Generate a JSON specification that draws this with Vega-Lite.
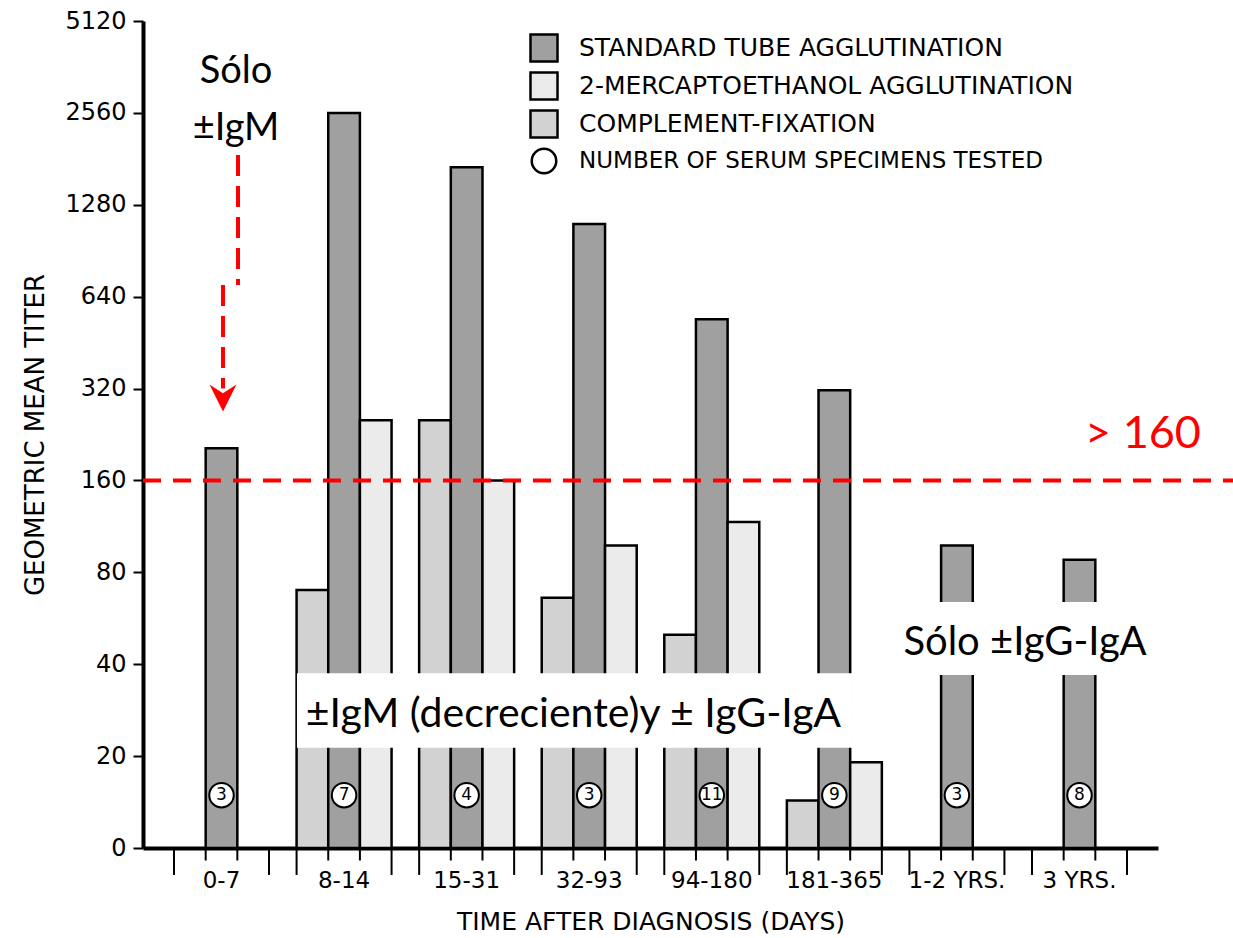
{
  "$schema": "https://vega.github.io/schema/vega-lite/v6.json",
  "width": 1015,
  "height": 827,
  "autosize": {"type": "none"},
  "padding": {"left": 143, "top": 21, "right": 75, "bottom": 90},
  "background": "white",
  "config": {"view": {"stroke": null}},
  "datasets": {
    "titers": [
      {"period": "0-7", "test": "STANDARD TUBE AGGLUTINATION", "titer": 204},
      {"period": "8-14", "test": "COMPLEMENT-FIXATION", "titer": 70},
      {"period": "8-14", "test": "STANDARD TUBE AGGLUTINATION", "titer": 2560},
      {"period": "8-14", "test": "2-MERCAPTOETHANOL AGGLUTINATION", "titer": 252},
      {"period": "15-31", "test": "COMPLEMENT-FIXATION", "titer": 252},
      {"period": "15-31", "test": "STANDARD TUBE AGGLUTINATION", "titer": 1700},
      {"period": "15-31", "test": "2-MERCAPTOETHANOL AGGLUTINATION", "titer": 160},
      {"period": "32-93", "test": "COMPLEMENT-FIXATION", "titer": 66},
      {"period": "32-93", "test": "STANDARD TUBE AGGLUTINATION", "titer": 1107},
      {"period": "32-93", "test": "2-MERCAPTOETHANOL AGGLUTINATION", "titer": 98},
      {"period": "94-180", "test": "COMPLEMENT-FIXATION", "titer": 50},
      {"period": "94-180", "test": "STANDARD TUBE AGGLUTINATION", "titer": 540},
      {"period": "94-180", "test": "2-MERCAPTOETHANOL AGGLUTINATION", "titer": 117},
      {"period": "181-365", "test": "COMPLEMENT-FIXATION", "titer": 14.3},
      {"period": "181-365", "test": "STANDARD TUBE AGGLUTINATION", "titer": 316},
      {"period": "181-365", "test": "2-MERCAPTOETHANOL AGGLUTINATION", "titer": 19.1},
      {"period": "1-2 YRS.", "test": "STANDARD TUBE AGGLUTINATION", "titer": 98},
      {"period": "3 YRS.", "test": "STANDARD TUBE AGGLUTINATION", "titer": 88}
    ],
    "specimens": [
      {"period": "0-7", "n": 3},
      {"period": "8-14", "n": 7},
      {"period": "15-31", "n": 4},
      {"period": "32-93", "n": 3},
      {"period": "94-180", "n": 11},
      {"period": "181-365", "n": 9},
      {"period": "1-2 YRS.", "n": 3},
      {"period": "3 YRS.", "n": 8}
    ],
    "periods": [
      {"period": "0-7", "edge": ["e0", "e1", "e2", "e3"]},
      {"period": "8-14", "edge": ["e0", "e1", "e2", "e3"]},
      {"period": "15-31", "edge": ["e0", "e1", "e2", "e3"]},
      {"period": "32-93", "edge": ["e0", "e1", "e2", "e3"]},
      {"period": "94-180", "edge": ["e0", "e1", "e2", "e3"]},
      {"period": "181-365", "edge": ["e0", "e1", "e2", "e3"]},
      {"period": "1-2 YRS.", "edge": ["e0", "e1", "e2", "e3"]},
      {"period": "3 YRS.", "edge": ["e0", "e1", "e2", "e3"]}
    ],
    "note": [{}]
  },
  "layer": [
    {
      "data": {"name": "titers"},
      "layer": [
        {
          "mark": {"type": "bar", "stroke": "black", "strokeWidth": 2.5},
          "encoding": {
            "x": {
              "field": "period", "type": "nominal", "sort": null,
              "scale": {"domain": ["0-7", "8-14", "15-31", "32-93", "94-180", "181-365", "1-2 YRS.", "3 YRS."], "paddingInner": 0.225, "paddingOuter": 0.253},
              "axis": {
                "title": "TIME AFTER DIAGNOSIS (DAYS)", "labelAngle": 0, "ticks": false, "tickSize": 0,
                "domainWidth": 4, "domainColor": "black",
                "labelFont": "DejaVu Sans", "labelFontSize": 23, "labelColor": "black", "labelPadding": 21, "labelBaseline": "top",
                "titleFont": "DejaVu Sans", "titleFontSize": 25, "titleFontWeight": "normal", "titleColor": "black", "titlePadding": 17
              }
            },
            "xOffset": {
              "field": "test", "type": "nominal",
              "scale": {"domain": ["COMPLEMENT-FIXATION", "STANDARD TUBE AGGLUTINATION", "2-MERCAPTOETHANOL AGGLUTINATION"], "paddingInner": 0, "paddingOuter": 0}
            },
            "y": {
              "field": "titer", "type": "quantitative",
              "scale": {"type": "log", "base": 2, "domain": [10, 5120], "nice": false},
              "axis": {
                "values": [10, 20, 40, 80, 160, 320, 640, 1280, 2560, 5120], "format": "d",
                "labelExpr": "datum.value == 10 ? '0' : datum.label",
                "grid": false, "domainWidth": 4, "domainColor": "black",
                "tickColor": "black", "tickWidth": 2, "tickSize": 10,
                "labelPadding": 7, "labelFont": "DejaVu Sans", "labelFontSize": 24, "labelColor": "black",
                "title": "GEOMETRIC MEAN TITER", "titleFont": "DejaVu Sans", "titleFontSize": 26, "titleFontWeight": "normal", "titleColor": "black", "titlePadding": 16
              }
            },
            "y2": {"datum": 10},
            "fill": {
              "field": "test", "type": "nominal",
              "scale": {
                "domain": ["STANDARD TUBE AGGLUTINATION", "2-MERCAPTOETHANOL AGGLUTINATION", "COMPLEMENT-FIXATION", "NUMBER OF SERUM SPECIMENS TESTED"],
                "range": ["#a0a0a0", "#ebebeb", "#d2d2d2", "#ffffff"]
              },
              "legend": {
                "orient": "none", "legendX": 386, "legendY": 12, "title": null, "padding": 0,
                "symbolType": "square", "symbolSize": 730, "symbolStrokeColor": "black", "symbolStrokeWidth": 2.5, "symbolOpacity": 1,
                "labelFont": "DejaVu Sans", "labelFontSize": 25, "labelColor": "black", "labelOffset": 20, "labelLimit": 700, "rowPadding": 0,
                "encode": {
                  "symbols": {"update": {
                    "shape": {"signal": "datum.value === 'NUMBER OF SERUM SPECIMENS TESTED' ? 'circle' : 'square'"},
                    "size": {"signal": "datum.value === 'NUMBER OF SERUM SPECIMENS TESTED' ? 600 : 730"}
                  }},
                  "labels": {"update": {
                    "fontSize": {"signal": "datum.value === 'NUMBER OF SERUM SPECIMENS TESTED' ? 23 : 25"}
                  }}
                }
              }
            }
          }
        },
        {
          "data": {"name": "specimens"},
          "mark": {"type": "point", "shape": "circle", "filled": true, "fill": "white", "stroke": "black", "strokeWidth": 2, "size": 600, "opacity": 1},
          "encoding": {
            "x": {"field": "period", "type": "nominal", "sort": null},
            "y": {"datum": 14.9}
          }
        },
        {
          "data": {"name": "specimens"},
          "mark": {"type": "text", "font": "DejaVu Sans", "fontSize": 17, "baseline": "middle", "align": "center", "fill": "black"},
          "encoding": {
            "x": {"field": "period", "type": "nominal", "sort": null},
            "y": {"datum": 14.9},
            "text": {"field": "n", "type": "nominal"}
          }
        }
      ]
    },
    {
      "data": {"name": "periods"},
      "transform": [{"flatten": ["edge"]}],
      "encoding": {
        "x": {
          "field": "period", "type": "nominal", "sort": null,
          "scale": {"domain": ["0-7", "8-14", "15-31", "32-93", "94-180", "181-365", "1-2 YRS.", "3 YRS."], "paddingInner": 0.225, "paddingOuter": 0.253},
          "axis": null
        },
        "xOffset": {"field": "edge", "type": "nominal", "scale": {"type": "point", "domain": ["e0", "e1", "e2", "e3"], "padding": 0}}
      },
      "layer": [
        {
          "transform": [{"filter": "datum.edge == 'e0' || datum.edge == 'e3'"}],
          "mark": {"type": "rule", "stroke": "black", "strokeWidth": 2},
          "encoding": {"y": {"datum": 10}, "y2": {"datum": 8.16}}
        },
        {
          "transform": [{"filter": "datum.edge == 'e1' || datum.edge == 'e2'"}],
          "mark": {"type": "rule", "stroke": "black", "strokeWidth": 2},
          "encoding": {"y": {"datum": 10}, "y2": {"datum": 9.1}}
        }
      ]
    },
    {
      "data": {"name": "note"},
      "layer": [
        {
          "mark": {"type": "rect", "fill": "white"},
          "encoding": {
            "x": {"datum": 0.1517, "type": "quantitative", "scale": {"domain": [0, 1], "nice": false, "zero": false}, "axis": null},
            "x2": {"datum": 0.6985},
            "y": {"datum": 21.3},
            "y2": {"datum": 37.4}
          }
        },
        {
          "mark": {"type": "rect", "fill": "white"},
          "encoding": {
            "x": {"datum": 0.7458, "type": "quantitative"},
            "x2": {"datum": 0.9941},
            "y": {"datum": 36.9},
            "y2": {"datum": 63.9}
          }
        },
        {
          "mark": {"type": "rule", "stroke": "#ff0000", "strokeWidth": 4, "strokeDash": [18, 12]},
          "encoding": {
            "x": {"datum": 0, "type": "quantitative"},
            "x2": {"datum": 1.08},
            "y": {"datum": 160}
          }
        },
        {
          "mark": {"type": "rule", "stroke": "#ff0000", "strokeWidth": 4, "strokeDash": [21, 10]},
          "encoding": {
            "x": {"datum": 0.0936, "type": "quantitative"},
            "y": {"datum": 1865},
            "y2": {"datum": 699}
          }
        },
        {
          "mark": {"type": "rule", "stroke": "#ff0000", "strokeWidth": 4, "strokeDash": [21, 10]},
          "encoding": {
            "x": {"datum": 0.0788, "type": "quantitative"},
            "y": {"datum": 699},
            "y2": {"datum": 320}
          }
        },
        {
          "mark": {"type": "point", "shape": "M-1,-1L0,1L1,-1L0,-0.35Z", "filled": true, "fill": "#ff0000", "strokeWidth": 0, "size": 729, "opacity": 1},
          "encoding": {
            "x": {"datum": 0.0788, "type": "quantitative"},
            "y": {"datum": 298}
          }
        },
        {
          "mark": {"type": "text", "font": "Lato", "fontSize": 38, "align": "center", "baseline": "alphabetic", "fill": "black"},
          "encoding": {
            "x": {"datum": 0.0916, "type": "quantitative"},
            "y": {"datum": 3205},
            "text": {"value": "Sólo"}
          }
        },
        {
          "mark": {"type": "text", "font": "Lato", "fontSize": 38, "align": "center", "baseline": "alphabetic", "fill": "black"},
          "encoding": {
            "x": {"datum": 0.0916, "type": "quantitative"},
            "y": {"datum": 2086},
            "text": {"value": "±IgM"}
          }
        },
        {
          "mark": {"type": "text", "font": "Lato", "fontSize": 41, "align": "center", "baseline": "alphabetic", "fill": "black"},
          "encoding": {
            "x": {"datum": 0.4241, "type": "quantitative"},
            "y": {"datum": 24.9},
            "text": {"value": "±IgM (decreciente)y ± IgG-IgA"}
          }
        },
        {
          "mark": {"type": "text", "font": "Lato", "fontSize": 40, "align": "center", "baseline": "alphabetic", "fill": "black"},
          "encoding": {
            "x": {"datum": 0.869, "type": "quantitative"},
            "y": {"datum": 42.9},
            "text": {"value": "Sólo ±IgG-IgA"}
          }
        },
        {
          "mark": {"type": "text", "font": "Lato", "fontSize": 45, "align": "center", "baseline": "alphabetic", "fill": "#ff0000"},
          "encoding": {
            "x": {"datum": 0.9852, "type": "quantitative"},
            "y": {"datum": 204},
            "text": {"value": "> 160"}
          }
        }
      ]
    }
  ],
  "resolve": {"scale": {"x": "independent", "xOffset": "independent"}}
}
